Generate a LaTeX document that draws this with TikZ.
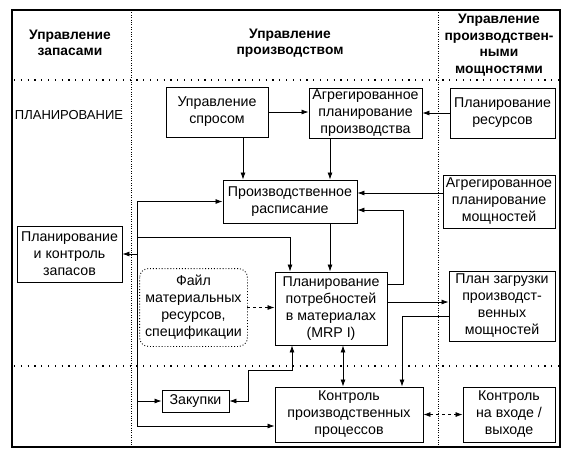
\documentclass[tikz,border=0pt]{standalone}
\usepackage{fontspec}
\setmainfont{Liberation Sans}
\usetikzlibrary{arrows.meta,positioning,calc}

\begin{document}
\begin{tikzpicture}[x=1pt,y=-1pt,
    box/.style={draw,line width=0.9pt,align=center,inner sep=1pt,
      font=\fontsize{14.2}{17}\selectfont},
    hdr/.style={align=center,font=\bfseries\fontsize{13.8}{16.5}\selectfont},
    link/.style={line width=0.8pt,-{Latex[length=7pt,width=5pt]}},
    link2/.style={line width=0.8pt,{Latex[length=7pt,width=5pt]}-{Latex[length=7pt,width=5pt]}},
    sep/.style={line width=1.3pt,dash pattern=on 1.2pt off 5.6pt},
    vsep/.style={line width=1pt,dash pattern=on 1pt off 1.4pt}]
    \useasboundingbox (0,0) rectangle (577,459);

    % frame and dividers
    \draw[line width=1.2pt] (12,10) rectangle (560,447);
    \draw[vsep] (131,10) -- (131,447);
    \draw[vsep] (438,10) -- (438,447);
    \draw[sep] (14,80) -- (560,80);
    \draw[sep] (14,366) -- (560,366);

    % column heads
    \node[hdr] (hzap) at (70,43) {Управление\\запасами};
    \node[hdr] (hprod) at (290,43) {Управление\\производством};
    \node[hdr] (hmosh) at (499,45) {Управление\\производствен-\\ными\\мощностями};
    \node[font=\fontsize{13}{15}\selectfont] (plan) at (69,115) {ПЛАНИРОВАНИЕ};

    % boxes
    \node[box,minimum width=102,minimum height=50] (spros) at (217,112) {Управление\\спросом};
    \node[box,minimum width=113,minimum height=50] (aggprod) at (365.5,113) {Агрегированное\\планирование\\производства};
    \node[box,minimum width=105,minimum height=50] (resursy) at (502.5,113) {Планирование\\ресурсов};
    \node[box,minimum width=134,minimum height=43] (rasp) at (290,201.5) {Производственное\\расписание};
    \node[box,minimum width=112,minimum height=53] (aggmosh) at (499,201.5) {Агрегированное\\планирование\\мощностей};
    \node[box,minimum width=105,minimum height=56] (zapasy) at (69.5,254) {Планирование\\и контроль\\запасов};
    \node[box,draw=none,minimum width=107,minimum height=77] (fajl) at (193.5,307.5) {Файл\\материальных\\ресурсов,\\спецификации};
    \draw[line width=0.9pt,dotted,rounded corners=9] (fajl.north west) rectangle (fajl.south east);
    \node[box,minimum width=112,minimum height=73] (mrp) at (331,308.5) {Планирование\\потребностей\\в материалах\\(MRP I)};
    \node[box,minimum width=106,minimum height=70] (zagr) at (502,306) {План загрузки\\производст-\\венных\\мощностей};
    \node[box,minimum width=67,minimum height=22] (zakup) at (195.5,401) {Закупки};
    \node[box,minimum width=148,minimum height=55] (kontrol) at (349,414.5) {Контроль\\производственных\\процессов};
    \node[box,minimum width=92,minimum height=55] (vhod) at (509,414.5) {Контроль\\на входе /\\выходе};

    % connectors
    \draw[link] (spros.east) -- (spros.east -| aggprod.west);
    \draw[link] (resursy.west) -- (aggprod.east);
    \draw[link] ([xshift=26]spros.south) -- ([xshift=-47]rasp.north);
    \draw[link] ([xshift=-35.5]aggprod.south) -- ([xshift=40]rasp.north);
    \draw[link] ([yshift=8.5]aggmosh.west) -- ([yshift=8.5]rasp.east);
    \draw[link] ([yshift=24.5]mrp.east) -- ++(16,0) |- ([yshift=-8.5]rasp.east);
    \draw[link] ([xshift=40]rasp.south) -- ([xshift=-1]mrp.north);

    % bus on the left of the middle column
    \coordinate (bus) at (137,237);
    \coordinate (kin) at ([yshift=-11.5]kontrol.west);
    \draw[line width=0.8pt] (bus |- rasp.west) -- (bus |- kin);
    \draw[link] (bus |- rasp.west) -- (rasp.west);
    \draw[link] (bus) -| ([xshift=-41]mrp.north);
    \draw[link] (bus |- zapasy.east) -- (zapasy.east);
    \draw[link] (bus |- zakup.west) -- (zakup.west);
    \draw[link] (bus |- kin) -- (kin);

    \draw[link,dashed] (fajl.east) -- (fajl.east -| mrp.west);
    \draw[link] ([yshift=6.5]mrp.east) -- ([yshift=4]zagr.west);
    \draw[link] ([yshift=-10]zagr.west) -| ([xshift=53]kontrol.north);
    \draw[link2] ([xshift=12]mrp.south) -- ([xshift=-6]kontrol.north);
    \draw[link2] ([xshift=-39]mrp.south) -- ++(0,25) -- ++(-44,0) |- (zakup.east);
    \draw[link2,dashed] (kontrol.east) -- (vhod.west);
  \end{tikzpicture}
\end{document}
